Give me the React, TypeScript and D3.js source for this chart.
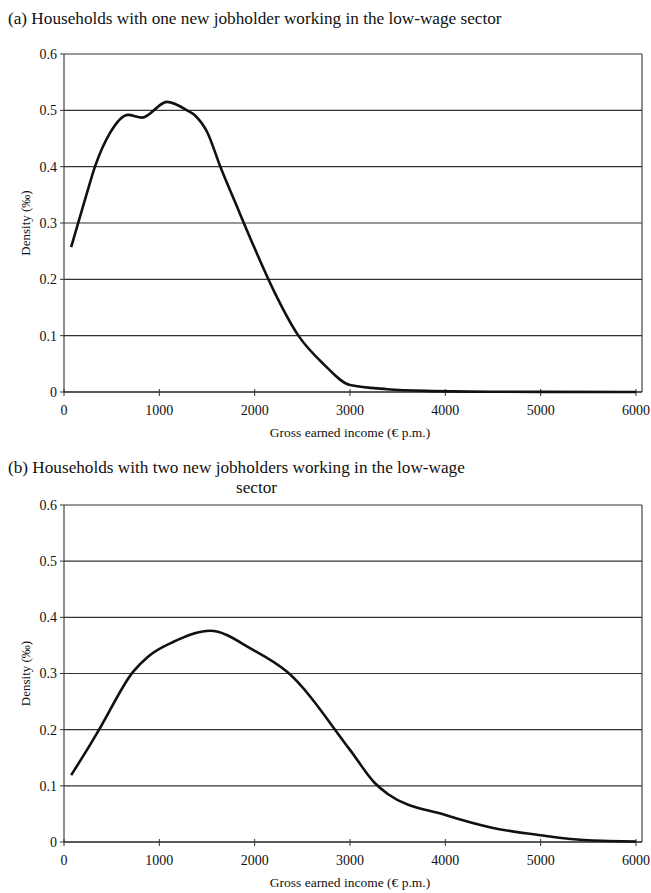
import React from "react";
import * as d3 from "d3";

const xTicks = [0, 1000, 2000, 3000, 4000, 5000, 6000];
const yTicks = [0, 0.1, 0.2, 0.3, 0.4, 0.5, 0.6];

const incomeA = [75, 240, 325, 483, 672, 818, 1080, 1290, 1380, 1500, 1640, 1800, 2000, 2200, 2455, 2720, 3000, 3390, 3800, 4500, 5000, 6000];
const densityA = [0.257, 0.353, 0.4, 0.46, 0.492, 0.487, 0.515, 0.5, 0.49, 0.462, 0.4, 0.335, 0.255, 0.18, 0.101, 0.05, 0.0124, 0.005, 0.002, 0.0005, 0.0002, 0.0];

const incomeB = [75, 241, 378, 724, 881, 1144, 1532, 1983, 2340, 3000, 3260, 3400, 4000, 4500, 5000, 5500, 6000];
const densityB = [0.119, 0.164, 0.203, 0.303, 0.33, 0.356, 0.376, 0.342, 0.303, 0.164, 0.105, 0.085, 0.048, 0.025, 0.012, 0.003, 0.001];

const FONT = "'Liberation Serif', 'DejaVu Serif', serif";

function Panel({ top, bottom, xs, ys, titleLines, titleY }: any) {
  const x = d3.scaleLinear().domain([0, 6000]).range([64, 636]);
  const xRight = 642;
  const y = d3.scaleLinear().domain([0, 0.6]).range([bottom, top]);
  const data = xs.map((v: number, i: number) => [v, ys[i]] as [number, number]);
  const line = d3
    .line<[number, number]>()
    .x((d) => x(d[0]))
    .y((d) => y(d[1]))
    .curve(d3.curveMonotoneX);
  return (
    <g>
      {titleLines.map((t: any, i: number) => (
        <text key={i} x={t.x} y={titleY + i * 20} fontSize={17.2} fontFamily={FONT} fill="#111">
          {t.text}
        </text>
      ))}
      {yTicks.slice(1).map((t) => (
        <line key={t} x1={x(0)} x2={xRight} y1={y(t)} y2={y(t)} stroke="#333" strokeWidth={1.1} />
      ))}
      <line x1={xRight} x2={xRight} y1={y(0.6)} y2={y(0)} stroke="#333" strokeWidth={1.1} />
      <line x1={x(0)} x2={x(0)} y1={y(0.6)} y2={y(0)} stroke="#333" strokeWidth={1.1} />
      <line x1={x(0)} x2={xRight} y1={y(0)} y2={y(0)} stroke="#222" strokeWidth={1.3} />
      {yTicks.map((t) => (
        <g key={t}>
          <line x1={x(0) - 4} x2={x(0)} y1={y(t)} y2={y(t)} stroke="#333" />
          <text x={x(0) - 7} y={y(t)} dy="0.35em" textAnchor="end" fontSize={14} fontFamily={FONT} fill="#111">
            {t === 0 ? "0" : t.toFixed(1)}
          </text>
        </g>
      ))}
      {xTicks.map((t) => (
        <g key={t}>
          <line x1={x(t)} x2={x(t)} y1={y(0) - 3} y2={y(0) + 4} stroke="#333" />
          <text x={x(t)} y={y(0) + 23} textAnchor="middle" fontSize={14} fontFamily={FONT} fill="#111">
            {t}
          </text>
        </g>
      ))}
      <text x={350} y={y(0) + 45} textAnchor="middle" fontSize={13.5} fontFamily={FONT} fill="#111">
        Gross earned income (€ p.m.)
      </text>
      <text
        transform={`translate(30, ${(y(0) + y(0.6)) / 2}) rotate(-90)`}
        textAnchor="middle"
        fontSize={13}
        fontFamily={FONT}
        fill="#111"
      >
        Density (‰)
      </text>
      <path d={line(data) || ""} fill="none" stroke="#111" strokeWidth={2.6} strokeLinejoin="round" />
    </g>
  );
}

export default function App() {
  return (
    <svg width={651} height={893} style={{ position: "absolute", left: 0, top: 0, background: "#fff" }}>
      <rect width={651} height={893} fill="#fff" />
      <Panel
        top={54}
        bottom={392}
        xs={incomeA}
        ys={densityA}
        titleY={24}
        titleLines={[{ x: 8, text: "(a) Households with one new jobholder working in the low-wage sector" }]}
      />
      <Panel
        top={505}
        bottom={842}
        xs={incomeB}
        ys={densityB}
        titleY={473}
        titleLines={[
          { x: 8, text: "(b) Households with two new jobholders working in the low-wage" },
          { x: 236, text: "sector" },
        ]}
      />
    </svg>
  );
}
